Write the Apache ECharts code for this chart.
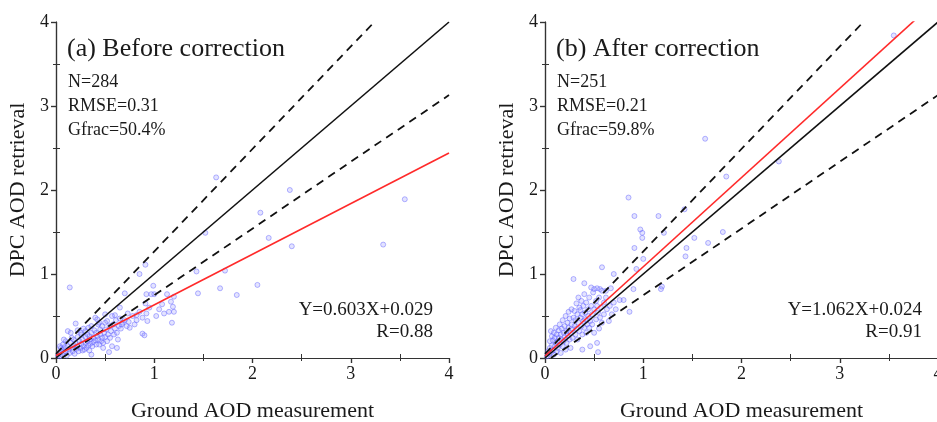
<!DOCTYPE html>
<html>
<head>
<meta charset="utf-8">
<script src="https://cdn.jsdelivr.net/npm/echarts@6/dist/echarts.min.js"></script>
<style>html,body{margin:0;padding:0;background:#fff;overflow:hidden}#c{width:937px;height:422px}</style>
</head>
<body>
<div id="c"></div>
<script>
// ---- data ----
const axisTicks = [0, 1, 2, 3, 4];
const titleA = "(a) Before correction";
const titleB = "(b) After correction";
const statsA = ["N=284", "RMSE=0.31", "Gfrac=50.4%"];
const statsB = ["N=251", "RMSE=0.21", "Gfrac=59.8%"];
const fitA = { slope: 0.603, intercept: 0.029, label: "Y=0.603X+0.029", r: "R=0.88" };
const fitB = { slope: 1.062, intercept: 0.024, label: "Y=1.062X+0.024", r: "R=0.91" };
const oneToOne = [[0, 0], [4, 4]];
const envelopeUpper = [[0, 0.05], [3.24, 4]];
const envelopeLower = [[0.06, 0], [4, 3.13]];

const pointsA = [
  [1.63,2.15],[2.38,2.00],[3.55,1.89],[2.08,1.73],[2.165,1.43],[2.40,1.33],[3.33,1.35],[1.52,1.49],
  [1.43,1.03],[1.72,1.04],[1.67,0.83],[2.05,0.87],[1.84,0.75],[1.445,0.77],[0.14,0.84],[0.91,1.11],
  [0.85,1.00],[0.99,0.86],[0.92,0.76],[0.97,0.76],[1.00,0.76],[0.70,0.77],[1.13,0.76],[1.20,0.73],
  [1.17,0.67],[1.19,0.61],[1.20,0.55],[1.15,0.55],[1.18,0.42],[1.10,0.53],[1.02,0.50],[0.92,0.53],
  [0.91,0.65],[0.82,0.51],[0.80,0.40],[0.88,0.29],[0.90,0.27],[0.73,0.53],[0.75,0.36],[0.68,0.42],
  [0.64,0.38],[0.60,0.51],
  [0.02,0.03],[0.03,0.06],[0.04,0.02],[0.05,0.08],[0.05,0.12],[0.06,0.04],[0.07,0.16],[0.07,0.10],
  [0.08,0.06],[0.09,0.13],[0.10,0.20],[0.10,0.08],[0.11,0.03],[0.12,0.14],[0.12,0.32],[0.13,0.10],
  [0.14,0.06],[0.15,0.30],[0.15,0.18],[0.16,0.12],[0.17,0.08],[0.18,0.22],[0.18,0.15],[0.19,0.05],
  [0.20,0.41],[0.20,0.18],[0.21,0.11],[0.22,0.25],[0.22,0.14],[0.23,0.08],[0.24,0.20],[0.25,0.30],
  [0.25,0.12],[0.26,0.17],[0.27,0.22],[0.27,0.09],[0.28,0.35],[0.28,0.14],[0.29,0.10],[0.30,0.25],
  [0.30,0.18],[0.31,0.12],[0.32,0.28],[0.32,0.20],[0.33,0.15],[0.34,0.26],[0.34,0.09],[0.35,0.22],
  [0.35,0.17],[0.36,0.04],[0.36,0.30],[0.37,0.14],[0.38,0.24],[0.38,0.19],[0.39,0.33],[0.40,0.48],
  [0.40,0.21],[0.41,0.30],[0.41,0.16],[0.42,0.26],[0.43,0.40],[0.43,0.22],[0.44,0.16],[0.45,0.28],
  [0.45,0.34],[0.46,0.20],[0.47,0.24],[0.47,0.38],[0.48,0.18],[0.49,0.30],[0.50,0.42],[0.50,0.25],
  [0.51,0.34],[0.52,0.20],[0.52,0.44],[0.53,0.28],[0.54,0.07],[0.55,0.38],[0.55,0.24],[0.56,0.32],
  [0.57,0.14],[0.58,0.40],[0.59,0.28],[0.60,0.35],[0.61,0.45],[0.62,0.30],[0.63,0.22],[0.65,0.47],
  [0.66,0.35],[0.67,0.40],[0.70,0.45],[0.72,0.38],[0.74,0.43],[0.78,0.50],[0.82,0.45],[0.85,0.55],
  [0.88,0.48],[0.93,0.44],[0.95,0.60],[1.05,0.58],[1.08,0.64],[0.62,0.12],[0.48,0.12],[0.44,0.42],
  [0.36,0.38],[0.30,0.32],[0.26,0.28],[0.22,0.33],[0.16,0.24],[0.08,0.22],[0.04,0.14],[0.33,0.36],
  [0.42,0.46],[0.50,0.52],[0.57,0.50],[0.65,0.60]
];

const pointsB = [
  [1.63,2.61],[0.85,1.91],[1.845,2.16],[2.38,2.34],[3.55,3.84],[0.91,1.69],[1.155,1.69],[1.42,1.77],
  [0.97,1.53],[0.99,1.49],[0.99,1.43],[1.21,1.49],[1.52,1.43],[1.81,1.50],[0.91,1.31],[1.00,1.18],
  [1.44,1.31],[1.43,1.21],[1.66,1.37],[1.19,0.85],[1.18,0.82],[0.93,1.06],[0.58,1.08],[0.70,1.00],
  [0.29,0.94],[0.40,0.89],[0.90,0.82],[0.80,0.69],[0.76,0.69],[0.86,0.55],[0.54,0.07],[0.67,0.83],
  [0.53,0.83],[0.56,0.82],[0.62,0.80],[0.47,0.84],[0.50,0.82],
  [0.02,0.02],[0.03,0.08],[0.04,0.04],[0.05,0.12],[0.05,0.20],[0.06,0.06],[0.06,0.32],[0.07,0.15],
  [0.07,0.26],[0.08,0.09],[0.08,0.21],[0.09,0.04],[0.09,0.30],[0.10,0.14],[0.10,0.24],[0.11,0.18],
  [0.11,0.36],[0.12,0.08],[0.12,0.28],[0.13,0.20],[0.13,0.12],[0.14,0.33],[0.14,0.24],[0.15,0.16],
  [0.15,0.40],[0.16,0.28],[0.16,0.06],[0.17,0.22],[0.17,0.35],[0.18,0.14],[0.18,0.45],[0.19,0.30],
  [0.19,0.20],[0.20,0.38],[0.20,0.25],[0.21,0.10],[0.21,0.50],[0.22,0.32],[0.22,0.18],[0.23,0.42],
  [0.23,0.27],[0.24,0.55],[0.24,0.36],[0.25,0.22],[0.25,0.47],[0.26,0.30],[0.26,0.12],[0.27,0.40],
  [0.27,0.58],[0.28,0.34],[0.28,0.24],[0.29,0.48],[0.30,0.38],[0.30,0.56],[0.31,0.28],[0.31,0.45],
  [0.32,0.65],[0.32,0.35],[0.33,0.52],[0.33,0.22],[0.34,0.72],[0.34,0.42],[0.35,0.32],[0.35,0.60],
  [0.36,0.48],[0.36,0.57],[0.37,0.38],[0.37,0.68],[0.38,0.28],[0.38,0.52],[0.39,0.44],[0.39,0.62],
  [0.40,0.36],[0.40,0.76],[0.41,0.54],[0.41,0.46],[0.42,0.30],[0.42,0.66],[0.43,0.40],[0.44,0.58],
  [0.44,0.50],[0.45,0.36],[0.45,0.72],[0.46,0.44],[0.47,0.62],[0.48,0.52],[0.48,0.40],[0.49,0.78],
  [0.50,0.58],[0.50,0.30],[0.52,0.68],[0.52,0.46],[0.53,0.62],[0.54,0.54],[0.55,0.72],[0.56,0.48],
  [0.57,0.60],[0.58,0.80],[0.58,0.42],[0.60,0.66],[0.60,0.52],[0.62,0.72],[0.63,0.58],[0.65,0.44],
  [0.66,0.62],[0.68,0.52],[0.70,0.66],[0.72,0.58],[0.53,0.18],[0.46,0.14],[0.38,0.10],[0.55,0.35]
];

// ---- chart ----
const FONT = "'Liberation Serif', 'DejaVu Serif', serif";
const TXT = '#1a1a1a';
const AX = '#333';
const grids = [
  { left: 56, top: 22, width: 393, height: 336, outerBoundsMode: 'none', containLabel: false },
  { left: 545, top: 22, width: 393, height: 336, outerBoundsMode: 'none', containLabel: false }
];

function fitLine(f) {
  return [[0, f.intercept], [4, f.intercept + f.slope * 4]];
}

const xAxes = [], yAxes = [];
grids.forEach((g, i) => {
  const base = { gridIndex: i, type: 'value', min: axisTicks[0], max: axisTicks[axisTicks.length - 1], interval: 1, splitLine: { show: false } };
  xAxes.push(Object.assign({}, base, {
    position: 'bottom',
    name: 'Ground AOD measurement', nameLocation: 'middle', nameGap: 42,
    nameTextStyle: { fontFamily: FONT, fontSize: 22, color: TXT },
    axisLine: { lineStyle: { color: AX, width: 1.2 } },
    axisTick: { show: true, inside: false, length: 5, lineStyle: { color: AX, width: 1.2 } },
    axisLabel: { fontFamily: FONT, fontSize: 18, color: TXT, margin: 7 },
    minorTick: { show: false }
  }));
  xAxes.push(Object.assign({}, base, {
    position: 'bottom',
    axisLine: { show: false },
    axisTick: { show: false, inside: true },
    axisLabel: { show: false },
    minorTick: { show: true, splitNumber: 2, length: 4, lineStyle: { color: AX, width: 1 } }
  }));
  xAxes.push(Object.assign({}, base, {
    position: 'top',
    axisLine: { lineStyle: { color: AX, width: 1.2 } },
    axisTick: { show: true, inside: true, length: 5, lineStyle: { color: AX, width: 1.2 } },
    axisLabel: { show: false },
    minorTick: { show: true, splitNumber: 2, length: 3, lineStyle: { color: AX, width: 1 } }
  }));

  yAxes.push(Object.assign({}, base, {
    position: 'left',
    name: 'DPC AOD retrieval', nameLocation: 'middle', nameGap: 27,
    nameTextStyle: { fontFamily: FONT, fontSize: 22, color: TXT },
    axisLine: { lineStyle: { color: AX, width: 1.2 } },
    axisTick: { show: true, inside: false, length: 5, lineStyle: { color: AX, width: 1.2 } },
    axisLabel: { fontFamily: FONT, fontSize: 18, color: TXT, margin: 7 },
    minorTick: { show: false }
  }));
  yAxes.push(Object.assign({}, base, {
    position: 'left',
    axisLine: { show: false },
    axisTick: { show: false, inside: true },
    axisLabel: { show: false },
    minorTick: { show: true, splitNumber: 2, length: 4, lineStyle: { color: AX, width: 1 } }
  }));
  yAxes.push(Object.assign({}, base, {
    position: 'right',
    axisLine: { lineStyle: { color: AX, width: 1.2 } },
    axisTick: { show: true, inside: true, length: 5, lineStyle: { color: AX, width: 1.2 } },
    axisLabel: { show: false },
    minorTick: { show: true, splitNumber: 2, length: 3, lineStyle: { color: AX, width: 1 } }
  }));
});

const series = [];
[[pointsA, fitA], [pointsB, fitB]].forEach(([pts, fit], i) => {
  const xi = i * 3, yi = i * 3;
  series.push({
    type: 'scatter', xAxisIndex: xi, yAxisIndex: yi, data: pts, symbolSize: 5, z: 2,
    itemStyle: { color: 'rgba(140,140,255,0.3)', borderColor: 'rgba(90,90,255,0.7)', borderWidth: 0.8 }
  });
  const lineBase = { type: 'line', xAxisIndex: xi, yAxisIndex: yi, showSymbol: false, clip: true, silent: true, animation: false, z: 3 };
  series.push(Object.assign({}, lineBase, { data: envelopeUpper, lineStyle: { color: '#111', width: 1.8, type: [8, 6] } }));
  series.push(Object.assign({}, lineBase, { data: envelopeLower, lineStyle: { color: '#111', width: 1.8, type: [8, 6] } }));
  series.push(Object.assign({}, lineBase, { data: oneToOne, lineStyle: { color: '#111', width: 1.6 } }));
  series.push(Object.assign({}, lineBase, { data: fitLine(fit), lineStyle: { color: '#ff2a2a', width: 1.6 }, z: 4 }));
});

const graphics = [];
[[titleA, statsA, fitA, 56], [titleB, statsB, fitB, 545]].forEach(([t, stats, fit, gl]) => {
  graphics.push({ type: 'text', x: gl + 11, y: 49, style: { text: t, font: "26px " + FONT, fill: TXT, verticalAlign: 'middle' } });
  stats.forEach((s, k) => {
    graphics.push({ type: 'text', x: gl + 12, y: 82 + k * 24, style: { text: s, font: "18px " + FONT, fill: TXT, verticalAlign: 'middle' } });
  });
  graphics.push({ type: 'text', x: gl + 377, y: 310, style: { text: fit.label, font: "19px " + FONT, fill: TXT, align: 'right', verticalAlign: 'middle' } });
  graphics.push({ type: 'text', x: gl + 377, y: 332, style: { text: fit.r, font: "19px " + FONT, fill: TXT, align: 'right', verticalAlign: 'middle' } });
});

const chart = echarts.init(document.getElementById('c'), null, { renderer: 'canvas' });
chart.setOption({
  animation: false,
  backgroundColor: '#fff',
  grid: grids,
  xAxis: xAxes,
  yAxis: yAxes,
  series: series,
  graphic: graphics
});
</script>
</body>
</html>
